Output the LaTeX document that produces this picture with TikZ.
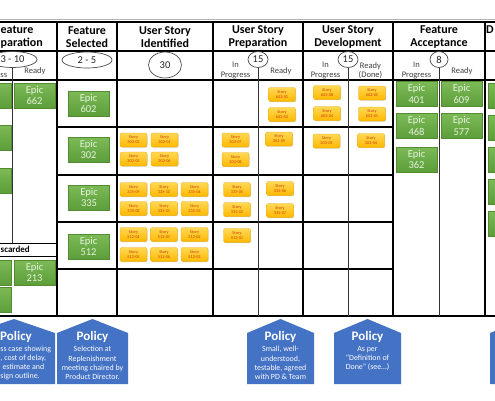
\documentclass[tikz,border=0pt]{standalone}
\usepackage{fontspec}
\setmainfont{Carlito}
\usetikzlibrary{shapes.geometric,shadows}
\definecolor{epicTop}{RGB}{124,186,86}
\definecolor{epicBot}{RGB}{92,158,58}
\definecolor{epicLine}{RGB}{84,140,52}
\definecolor{epicTxt}{RGB}{230,243,222}
\definecolor{stTop}{RGB}{255,216,84}
\definecolor{stBot}{RGB}{255,184,0}
\definecolor{stLine}{RGB}{232,168,0}
\definecolor{stTxt}{RGB}{200,60,20}
\definecolor{polBlue}{RGB}{68,114,196}
\definecolor{subTxt}{RGB}{64,64,64}
\begin{document}
\begin{tikzpicture}[x=1pt,y=-1pt,
  epicbox/.style={rectangle, minimum width=41pt, minimum height=25pt, inner sep=0pt,
    top color=epicTop, bottom color=epicBot, draw=epicLine, line width=0.4pt,
    text=epicTxt, align=center, font=\fontsize{10.5}{11.5}\selectfont,
    drop shadow={opacity=0.3,shadow xshift=0.7pt,shadow yshift=-0.8pt}},
  storybox/.style={rectangle, rounded corners=2pt, minimum width=27pt, minimum height=14pt,
    inner sep=0pt, top color=stTop, bottom color=stBot, draw=stLine, line width=0.3pt,
    text=stTxt, align=center, font=\fontsize{4.3}{5.2}\selectfont,
    drop shadow={opacity=0.35,shadow xshift=0.6pt,shadow yshift=-0.7pt}},
  hdr/.style={align=center, font=\bfseries\fontsize{12}{13.5}\selectfont, inner sep=0pt},
  sub/.style={align=center, text=subTxt, font=\fontsize{8.5}{9.2}\selectfont, inner sep=0pt},
  wip/.style={ellipse, draw=black!70, line width=0.7pt, inner sep=0pt, text=black!85,
    font=\fontsize{10.5}{12}\selectfont},
  poltitle/.style={text=white, font=\bfseries\fontsize{13}{14}\selectfont, inner sep=0pt},
  poltext/.style={text=white, align=center, font=\fontsize{7.9}{9.2}\selectfont, inner sep=0pt},
  thick grid/.style={line width=2.5pt},
  mid grid/.style={line width=1.7pt},
  thin grid/.style={line width=1pt, black!80}
]
\useasboundingbox (0,0) rectangle (495,400);
\clip (0,0) rectangle (495,400);
\fill[white] (0,0) rectangle (495,400);

\coordinate (bot) at (0,316);
\coordinate (disc) at (0,243);

% ---------- grid ----------
\draw[gray!60, line width=0.8pt] (0,19) -- (495,19);
\draw[thick grid] (0,22) -- (495,22);
\draw[line width=1.3pt] (0,51) -- (495,51);
\draw[mid grid] (0,80) -- (495,80);
\foreach \yy in {127,175,222,269} \draw[mid grid] (57,\yy) -- (393,\yy);
\draw[line width=0.9pt] (0,243) -- (57,243);
\draw[line width=0.9pt] (0,256) -- (57,256);

\draw[line width=2.7pt] (57,22) -- (57,316);
\draw[mid grid] (117,22) -- (117,316);
\draw[mid grid] (213,22) -- (213,316);
\draw[mid grid] (303,22) -- (303,316);
\draw[line width=2.7pt] (393,22) -- (393,316);
\draw[mid grid] (485,22) -- (485,316);
\draw[thick grid] (0,316) -- (495,316);

% ---------- headers ----------
\node[hdr, align=left, anchor=west] (h1) at (0.5,37) {eature\\paration};
\node[hdr] (h2) at (87,37) {Feature\\Selected};
\node[hdr] (h3) at (165,37) {User Story\\Identified};
\node[hdr] (h4) at (258,37) {User Story\\Preparation};
\node[hdr] (h5) at (348,37) {User Story\\Development};
\node[hdr] (h6) at (439,37) {Feature\\Acceptance};
\node[hdr, anchor=west] (h7) at (486,29.5) {D};

% ---------- WIP limits ----------
\node[wip, minimum width=49pt, minimum height=16pt] (wip1) at (12.5,59.5) {3 - 10};
\node[wip, minimum width=50pt, minimum height=16pt] (wip2) at (87,60) {2 - 5};
\node[wip, minimum width=33pt, minimum height=26pt] (wip3) at (165,65) {30};
\node[wip, minimum width=20pt, minimum height=16pt] (wip4) at (258,59.5) {15};
\node[wip, minimum width=20pt, minimum height=16pt] (wip5) at (348,59.5) {15};
\node[wip, minimum width=18pt, minimum height=16pt] (wip6) at (439,59.5) {8};

\draw[thin grid] (wip1.south) -- (wip1.south |- disc);
\draw[thin grid] (wip4.south) -- (wip4.south |- bot);
\draw[thin grid] (wip5.south) -- (wip5.south |- bot);
\draw[thin grid] (wip6.south) -- (wip6.south |- bot);

% ---------- sub labels ----------
\node[sub, anchor=west] (l1a) at (0.3,75.5) {ss};
\node[sub] (l1b) at (35,71.5) {Ready};
\node[sub] (l4a) at (235.5,70.5) {In\\Progress};
\node[sub] (l4b) at (281,71.5) {Ready};
\node[sub] (l5a) at (325.5,70.5) {In\\Progress};
\node[sub] (l5b) at (370.5,70.5) {Ready\\(Done)};
\node[sub] (l6a) at (416.5,70.5) {In\\Progress};
\node[sub] (l6b) at (462,71.5) {Ready};

\node[anchor=west, inner sep=0pt, font=\bfseries\fontsize{9}{10}\selectfont] (disclbl) at (0.5,249.5) {scarded};

% ---------- epics ----------
\node[epicbox] (lp1) at (-9.5,95.5) {};
\node[epicbox] (lp2) at (-9.5,137.5) {};
\node[epicbox] (lp3) at (-9.5,180.5) {};
\node[epicbox] (ld1) at (-9.5,272.5) {};
\node[epicbox] (ld2) at (-9.5,300) {};
\node[epicbox] (e662) at (34.5,95.5) {Epic\\662};
\node[epicbox] (e213) at (34.5,272.5) {Epic\\213};

\node[epicbox] (e602) at (88.5,103.5) {Epic\\602};
\node[epicbox] (e302) at (88.5,149.5) {Epic\\302};
\node[epicbox] (e335) at (89,197.5) {Epic\\335};
\node[epicbox] (e512) at (88.5,246.5) {Epic\\512};

\node[epicbox] (e401) at (416.5,94) {Epic\\401};
\node[epicbox] (e468) at (416.5,126) {Epic\\468};
\node[epicbox] (e362) at (416.5,159.5) {Epic\\362};
\node[epicbox] (e609) at (461.5,94) {Epic\\609};
\node[epicbox] (e577) at (461.5,126) {Epic\\577};

\node[epicbox] (r1) at (509,95.5) {};
\node[epicbox] (r2) at (509,127.5) {};
\node[epicbox] (r3) at (509,159.5) {};
\node[epicbox] (r4) at (509,191.5) {};
\node[epicbox] (r5) at (509,223.5) {};

% ---------- stories: identified ----------
\node[storybox] (i1) at (133.5,140) {Story\\302-03};
\node[storybox] (i2) at (164.5,140) {Story\\302-01};
\node[storybox] (i3) at (133.5,159) {Story\\302-02};
\node[storybox] (i4) at (164.5,159) {Story\\302-06};

\node[storybox] (i5) at (133.5,189.5) {Story\\335-09};
\node[storybox] (i6) at (164,189.5) {Story\\335-10};
\node[storybox] (i7) at (194.5,189.5) {Story\\335-04};
\node[storybox] (i8) at (133.5,208.5) {Story\\335-08};
\node[storybox] (i9) at (164,208.5) {Story\\335-01};
\node[storybox] (i10) at (194.5,208.5) {Story\\335-03};

\node[storybox] (i11) at (133.5,234.5) {Story\\512-04};
\node[storybox] (i12) at (164,234.5) {Story\\512-07};
\node[storybox] (i13) at (194.5,234.5) {Story\\512-02};
\node[storybox] (i14) at (133.5,254.5) {Story\\512-05};
\node[storybox] (i15) at (164,254.5) {Story\\512-06};
\node[storybox] (i16) at (194.5,254.5) {Story\\512-03};

% ---------- stories: preparation ----------
\node[storybox] (p1) at (235.5,140) {Story\\302-07};
\node[storybox] (p2) at (235.5,159.5) {Story\\302-08};
\node[storybox] (p3) at (237,189.5) {Story\\335-05};
\node[storybox] (p4) at (237,209.5) {Story\\335-02};
\node[storybox] (p5) at (237,235.5) {Story\\512-01};

\node[storybox] (q1) at (282,94.5) {Story\\602-01};
\node[storybox] (q2) at (282,114.5) {Story\\602-03};
\node[storybox] (q3) at (279,139) {Story\\302-09};
\node[storybox] (q4) at (280,188.5) {Story\\335-06};
\node[storybox] (q5) at (280,210.5) {Story\\335-07};

% ---------- stories: development ----------
\node[storybox] (d1) at (327,92.5) {Story\\602-08};
\node[storybox] (d2) at (327,113.5) {Story\\602-04};
\node[storybox] (d3) at (326.5,141) {Story\\303-05};

\node[storybox] (f1) at (372,93) {Story\\602-05};
\node[storybox] (f2) at (372,114) {Story\\602-01};
\node[storybox] (f3) at (371,140.5) {Story\\302-04};

% ---------- policies ----------
\fill[polBlue] (-27,384) -- (-27,333) -- (14,319) -- (55,333) -- (55,384) -- cycle;
\node[poltitle] (pol1t) at (16,337) {Policy};
\node[poltext, align=left, anchor=west] (pol1x) at (0.3,363) {ss case showing\\, cost of delay,\\\hspace*{2pt}estimate and\\sign outline.};

\fill[polBlue] (57,384) -- (57,333) -- (92.5,319) -- (128,333) -- (128,384) -- cycle;
\node[poltitle] (pol2t) at (92.5,337) {Policy};
\node[poltext] (pol2x) at (92.5,363) {Selection at\\Replenishment\\meeting chaired by\\Product Director.};

\fill[polBlue] (247,384) -- (247,333) -- (280.5,319) -- (314,333) -- (314,384) -- cycle;
\node[poltitle] (pol3t) at (280.5,337) {Policy};
\node[poltext] (pol3x) at (280.5,363) {Small, well-\\understood,\\testable, agreed\\with PD \& Team};

\fill[polBlue] (334,384) -- (334,333) -- (367.5,319) -- (401,333) -- (401,384) -- cycle;
\node[poltitle] (pol4t) at (367.5,337) {Policy};
\node[poltext] (pol4x) at (367.5,358.5) {As per\\“Definition of\\Done” (see…)};

\fill[polBlue] (490,384) -- (490,333) -- (525.5,319) -- (561,333) -- (561,384) -- cycle;
\end{tikzpicture}
\end{document}
